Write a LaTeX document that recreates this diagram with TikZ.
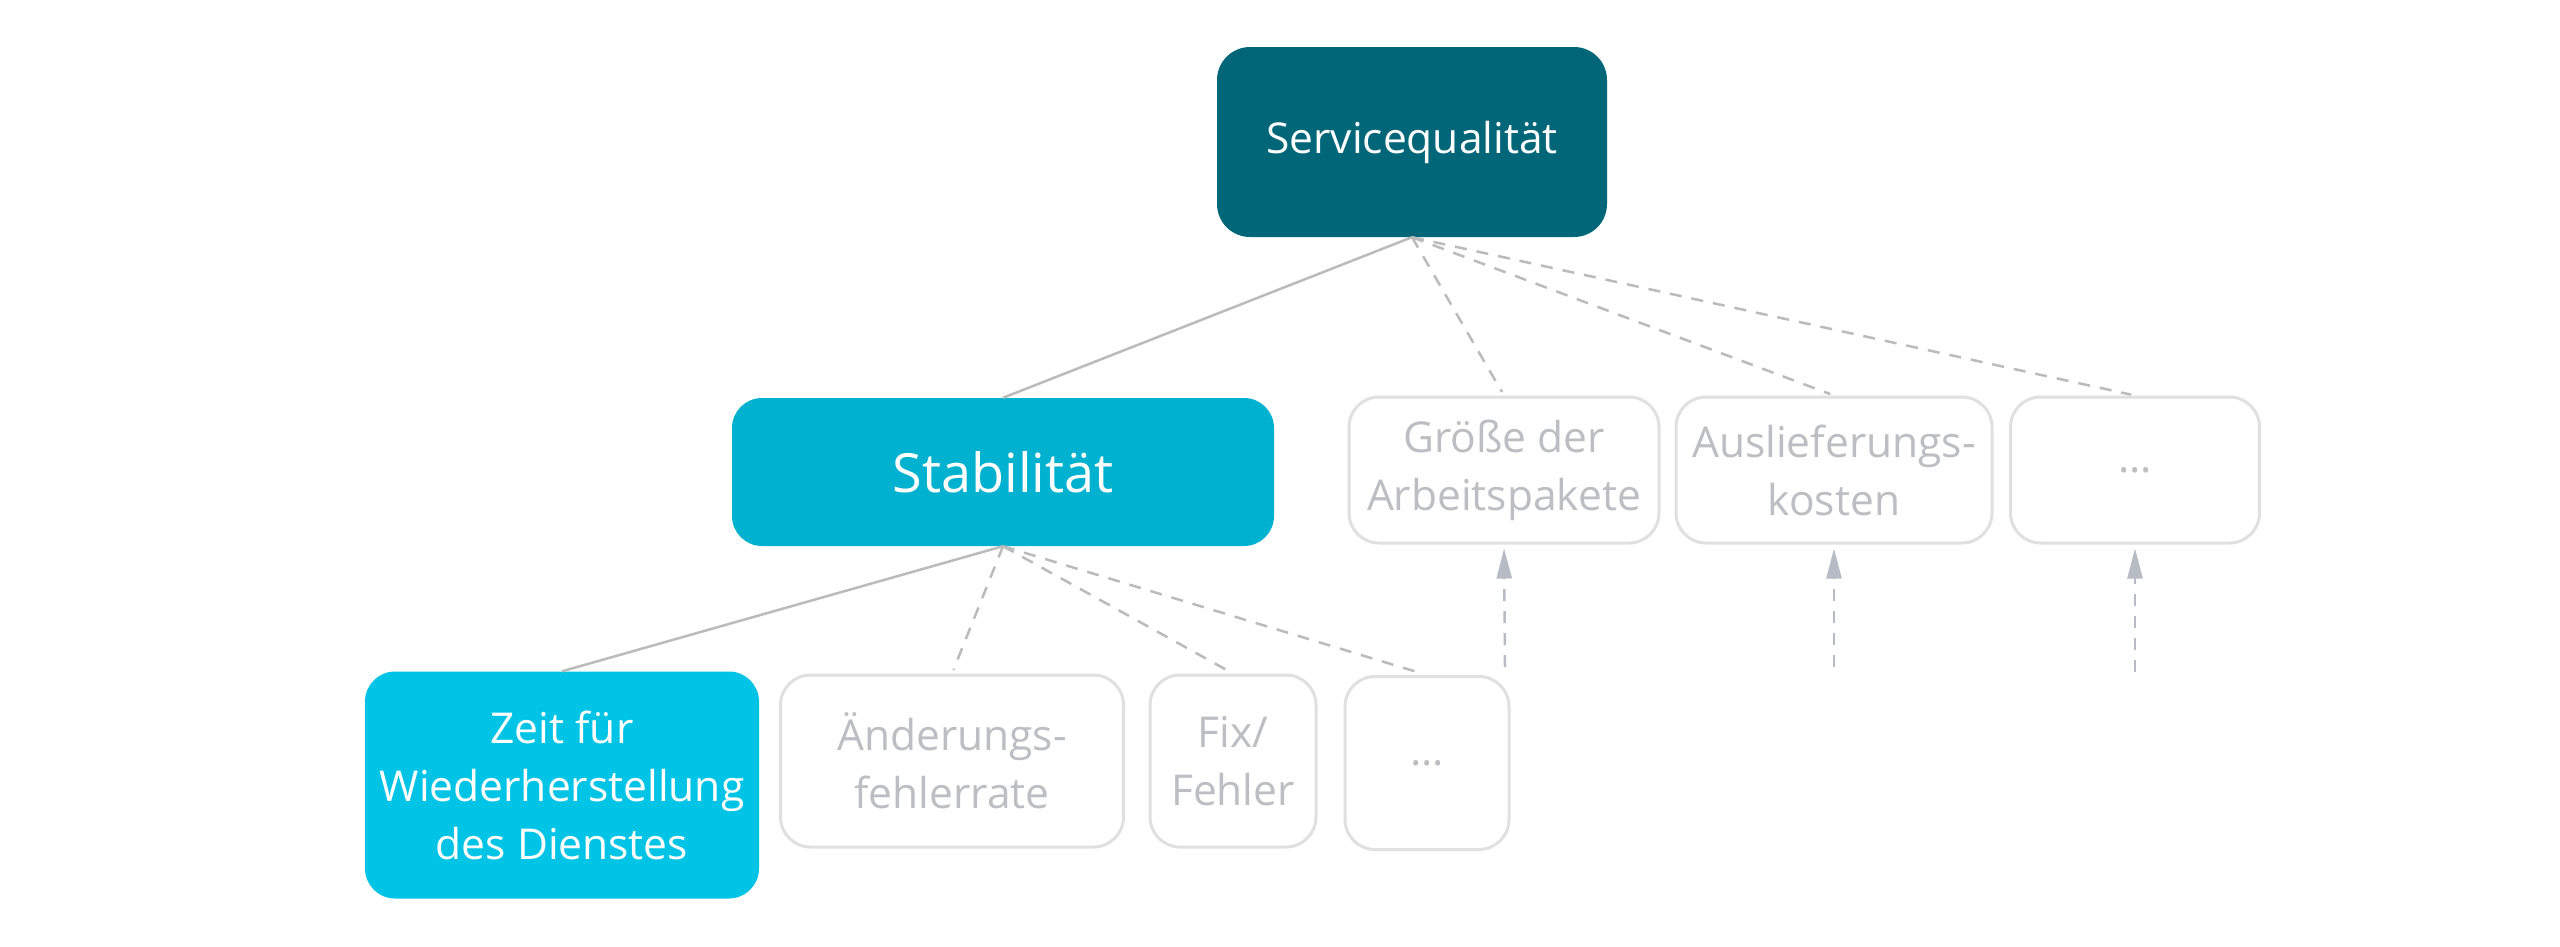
\documentclass[tikz,border=0pt]{standalone}
\usepackage{fontspec}
\setmainfont{Open Sans}
\usetikzlibrary{arrows.meta}
\definecolor{sqdark}{HTML}{006678}
\definecolor{stabcol}{HTML}{00B2CF}
\definecolor{zeitcol}{HTML}{00C4E6}
\definecolor{boxgray}{HTML}{E0E0E0}
\definecolor{txtgray}{HTML}{BDBEC3}
\definecolor{linegray}{HTML}{BBBBBB}
\definecolor{tipgray}{HTML}{B7BBC5}
\begin{document}
\begin{tikzpicture}[x=1pt,y=-1pt,
  basebox/.style={rounded corners=30pt, inner sep=0pt, align=center,
    font=\fontsize{42.5}{58}\selectfont},
  topbox/.style={basebox, fill=sqdark, text=white, rounded corners=33pt},
  stabbox/.style={basebox, fill=stabcol, text=white, font=\fontsize{54}{64}\selectfont},
  zeitbox/.style={basebox, fill=zeitcol, text=white},
  graybox/.style={basebox, draw=boxgray, line width=3pt, fill=white, text=txtgray},
  solidline/.style={draw=linegray, line width=2.5pt},
  dashline/.style={draw=linegray, line width=2.5pt, dash pattern=on 12pt off 10pt, shorten >=4pt},
  uparrow/.style={draw=linegray, line width=2.5pt, dash pattern=on 12pt off 10pt, shorten >=4pt,
    -{Triangle[length=30pt,width=15pt,fill=tipgray]}, tipgray}
]
\useasboundingbox (0,0) rectangle (2560,946);

% nodes
\node[topbox, minimum width=390pt, minimum height=190pt] (sq) at (1412,142) {Servicequalität};
\node[stabbox, minimum width=542pt, minimum height=148pt] (stab) at (1003,472) {Stabilität};
\node[graybox, minimum width=310pt, minimum height=146pt] (gr) at (1504,470) {Größe der\\Arbeitspakete};
\node[graybox, minimum width=316pt, minimum height=146pt] (al) at (1834,470) {Auslieferungs-\\kosten};
\node[graybox, minimum width=249pt, minimum height=146pt] (d1) at (2135,470) {...};
\node[zeitbox, minimum width=394pt, minimum height=227pt] (zeit) at (562,785) {Zeit für\\Wiederherstellung\\des Dienstes};
\node[graybox, minimum width=343pt, minimum height=172pt] (ae) at (952,761) {Änderungs-\\fehlerrate};
\node[graybox, minimum width=166pt, minimum height=172pt] (fix) at (1233,761) {Fix/\\Fehler};
\node[graybox, minimum width=164pt, minimum height=173pt] (d2) at (1427,763) {...};

% free ends of the upward arrows
\coordinate (t1) at (1505,667);
\coordinate (t2) at (1834,667);
\coordinate (t3) at (2135,672);

% connectors
\draw[solidline] (sq.south) -- (stab.north);
\draw[dashline] (sq.south) -- (gr.north);
\draw[dashline] (sq.south) -- (al.north);
\draw[dashline] (sq.south) -- (d1.north);
\draw[solidline] (stab.south) -- (zeit.north);
\draw[dashline] (stab.south) -- (ae.north);
\draw[dashline] (stab.south) -- (fix.north);
\draw[dashline] (stab.south) -- (d2.north);
\draw[uparrow] (t1) -- (gr.south);
\draw[uparrow] (t2) -- (al.south);
\draw[uparrow] (t3) -- (d1.south);
\end{tikzpicture}
\end{document}
